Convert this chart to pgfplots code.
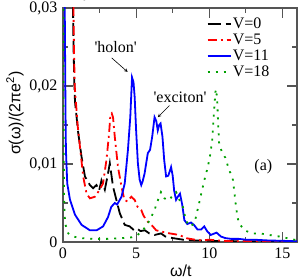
\documentclass[border=0pt]{standalone}
\usepackage{fontspec}
\setmainfont{Liberation Serif}
\setsansfont{Liberation Sans}
\usepackage{pgfplots}
\pgfplotsset{compat=1.18}
\definecolor{axgray}{RGB}{85,85,85}
\definecolor{vgreen}{RGB}{0,160,0}
\begin{document}
\fontsize{16pt}{19pt}\selectfont
\begin{tikzpicture}
\path[use as bounding box] (-63pt,-38pt) rectangle (237pt,242pt);
\begin{axis}[
 at={(0,0)}, anchor=south west,
 scale only axis, width=234pt, height=234pt,
 xmin=0, xmax=16, ymin=0, ymax=0.03,
 xtick={0,5,10,15}, xticklabels={0,5,10,15},
 ytick={0,0.01,0.02,0.03}, yticklabels={0,{0,01},{0,02},{0,03}},
 minor xtick={2.5,7.5,12.5}, minor ytick={0.005,0.015,0.025},
 major tick length=10pt, minor tick length=5pt,
 axis line style={axgray, line width=1.3pt},
 every tick/.style={axgray, line width=1.1pt},
 tick label style={font=\fontsize{16pt}{19pt}\selectfont},
 xlabel={\sffamily ω/t}, ylabel={\sffamily σ(ω)/(2πe\textsuperscript{2})},
 xlabel style={at={(axis description cs:0.504,-0.122)}, anchor=center},
 ylabel style={at={(axis description cs:-0.205,0.551)}, anchor=center},
 legend style={at={(axis description cs:0.6,0.975)}, anchor=north west, draw=none, fill=none,
   nodes={inner sep=1.5pt}, row sep=0pt},
 legend cell align=left,
 legend image code/.code={\draw[#1] (0pt,0pt) -- (23pt,0pt);},
]
\addplot[black, line width=1.8pt, dash pattern=on 13pt off 5pt] coordinates {
(0.65,0.035)(0.72,0.025)(0.78,0.02)(0.82,0.018)(1.04,0.014)(1.27,0.0109)(1.5,0.0084)(1.84,0.0073)
(2.06,0.0069)(2.29,0.0073)(2.47,0.0066)(2.63,0.0079)(2.86,0.0067)(3.08,0.0088)(3.2,0.0101)
(3.42,0.0071)(3.65,0.0054)(3.88,0.0037)(4.22,0.0022)(4.56,0.002)(4.8,0.0016)(5.0,0.0018)
(5.3,0.0014)(5.6,0.0015)(5.9,0.0011)(6.26,0.0009)(6.7,0.0011)(7.0,0.0007)(7.5,0.0005)
(8.2,0.0003)(9,0.0002)(10,0.00015)(12,0.0001)(16,0.00005)};
\addlegendentry{V=0}
\addplot[red, line width=1.8pt, dash pattern=on 9pt off 4pt on 2pt off 4pt] coordinates {
(0.68,0.035)(0.75,0.025)(0.8,0.02)(0.9,0.0175)(1.0,0.015)(1.16,0.0122)(1.38,0.0084)(1.61,0.0062)
(1.84,0.0056)(2.18,0.0058)(2.4,0.0064)(2.74,0.0075)(2.97,0.0105)(3.15,0.0139)(3.24,0.0163)
(3.33,0.0165)(3.42,0.016)(3.54,0.0135)(3.76,0.0096)(4.0,0.0071)(4.2,0.0054)(4.4,0.0052)
(4.67,0.0058)(4.9,0.0054)(5.1,0.0045)(5.35,0.0041)(5.5,0.0034)(5.7,0.0028)(5.9,0.0024)
(6.14,0.002)(6.37,0.0015)(6.8,0.0013)(7.3,0.0011)(7.96,0.0009)(8.4,0.0005)(9.0,0.0003)
(9.5,0.0002)(10.0,0.0003)(10.5,0.0002)(11.5,0.0001)(16,0.00005)};
\addlegendentry{V=5}
\addplot[blue, line width=1.8pt] coordinates {
(0.1,0.035)(0.14,0.025)(0.17,0.017)(0.2,0.0118)(0.29,0.0075)(0.48,0.0054)(0.82,0.0035)
(1.27,0.0022)(1.84,0.0015)(2.3,0.0015)(2.74,0.002)(3.08,0.0032)(3.3,0.0045)(3.54,0.005)
(3.7,0.0048)(4.0,0.0058)(4.22,0.0075)(4.44,0.0118)(4.6,0.016)(4.72,0.0211)(4.82,0.0205)
(4.9,0.0186)(5.0,0.0143)(5.12,0.0101)(5.24,0.008)(5.35,0.0073)(5.45,0.0078)(5.58,0.0088)
(5.8,0.0114)(5.95,0.0118)(6.1,0.0135)(6.26,0.016)(6.38,0.0155)(6.48,0.0143)(6.58,0.015)
(6.67,0.0152)(6.8,0.0135)(6.92,0.0105)(7.05,0.0084)(7.2,0.0085)(7.39,0.0096)(7.5,0.0085)
(7.6,0.0066)(7.73,0.0054)(7.85,0.0058)(8.0,0.0062)(8.15,0.0048)(8.3,0.0028)(8.5,0.0023)
(8.75,0.0025)(8.95,0.0022)(9.2,0.0016)(9.45,0.0016)(9.66,0.002)(9.85,0.0014)(10.1,0.0009)
(10.5,0.0012)(10.8,0.0007)(11.1,0.0005)(11.5,0.0004)(12,0.0004)(12.5,0.0003)(13,0.0003)
(14,0.0002)(16,0.0001)};
\addlegendentry{V=11}
\addplot[vgreen, line width=1.8pt, dash pattern=on 2pt off 6pt] coordinates {
(0.02,0.035)(0.04,0.015)(0.07,0.006)(0.14,0.0024)(0.36,0.0011)(0.7,0.0007)(1.2,0.0005)
(2.0,0.0004)(3.0,0.0004)(4.0,0.0005)(4.7,0.0006)(5.1,0.0009)(5.46,0.0015)(5.8,0.0024)
(6.03,0.0032)(6.26,0.0041)(6.45,0.0052)(6.6,0.0058)(6.7,0.0064)(6.85,0.006)(6.94,0.0056)
(7.1,0.0054)(7.28,0.0054)(7.5,0.006)(7.73,0.0064)(7.85,0.006)(7.96,0.0054)(8.2,0.0045)
(8.4,0.0028)(8.64,0.002)(8.85,0.0022)(9.0,0.0025)(9.2,0.0041)(9.43,0.006)(9.66,0.0079)
(9.9,0.0096)(10.05,0.011)(10.2,0.013)(10.32,0.0165)(10.42,0.0192)(10.47,0.0196)(10.55,0.018)
(10.6,0.0155)(10.68,0.0125)(10.9,0.0114)(11.1,0.0108)(11.36,0.0092)(11.6,0.0082)(11.7,0.0067)
(11.8,0.005)(11.93,0.0032)(12.04,0.0024)(12.4,0.0015)(12.95,0.0011)(13.5,0.0011)(14.1,0.0009)
(14.8,0.0007)(15.3,0.0005)(15.8,0.0003)(16,0.0003)};
\addlegendentry{V=18}
\node at (axis cs:3.6,0.025) {\textquotesingle holon\textquotesingle};
\draw[-stealth, line width=0.6pt] (axis cs:3.33,0.0236) -- (axis cs:4.42,0.0218);
\node at (axis cs:8.0,0.0186) {\textquotesingle exciton\textquotesingle};
\draw[-stealth, line width=0.6pt] (axis cs:7.28,0.0175) -- (axis cs:6.48,0.016);
\node at (axis cs:13.7,0.0096) {(a)};
\end{axis}
\end{tikzpicture}
\end{document}
